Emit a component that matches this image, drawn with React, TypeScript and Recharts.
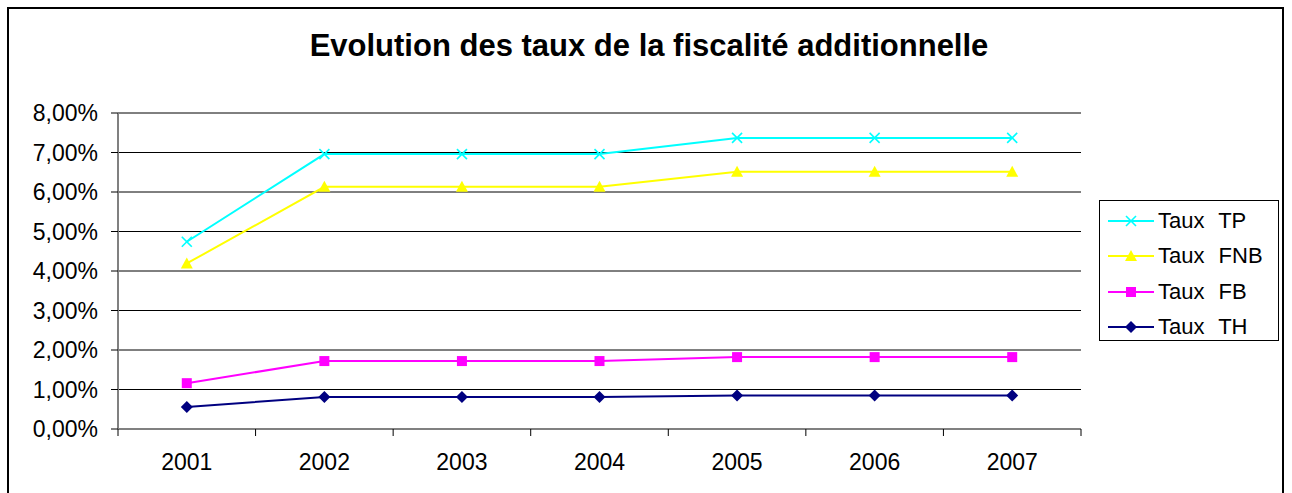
import React from 'react'
import { LineChart, Line, XAxis, YAxis, CartesianGrid, Legend } from 'recharts'

const years = ['2001', '2002', '2003', '2004', '2005', '2006', '2007']
const tauxTP = [4.74, 6.96, 6.96, 6.96, 7.37, 7.37, 7.37]
const tauxFNB = [4.19, 6.13, 6.13, 6.13, 6.51, 6.51, 6.51]
const tauxFB = [1.16, 1.72, 1.72, 1.72, 1.82, 1.82, 1.82]
const tauxTH = [0.56, 0.81, 0.81, 0.81, 0.85, 0.85, 0.85]
const yTicks = [0, 1, 2, 3, 4, 5, 6, 7, 8]

const data = years.map((year, i) => ({
  year,
  tp: tauxTP[i],
  fnb: tauxFNB[i],
  fb: tauxFB[i],
  th: tauxTH[i]
}))

const series = [
  { dataKey: 'tp', name: 'Taux TP', color: '#00FFFF', shape: 'cross' },
  { dataKey: 'fnb', name: 'Taux FNB', color: '#FFFF00', shape: 'triangle' },
  { dataKey: 'fb', name: 'Taux FB', color: '#FF00FF', shape: 'square' },
  { dataKey: 'th', name: 'Taux TH', color: '#000080', shape: 'diamond' }
]

const FONT = '"Liberation Sans", Arial, sans-serif'
const W = 1292
const H = 493
const PLOT_LEFT = 118
const PLOT_RIGHT = 1081
const PLOT_TOP = 113
const PLOT_BOTTOM = 429
const BAND = (PLOT_RIGHT - PLOT_LEFT) / years.length

function Marker({ cx, cy, shape, color }: { cx: number; cy: number; shape: string; color: string }) {
  if (cx == null || cy == null) return null
  if (shape === 'cross') {
    return (
      <g stroke={color} strokeWidth={1.6}>
        <line x1={cx - 5} y1={cy - 5} x2={cx + 5} y2={cy + 5} />
        <line x1={cx - 5} y1={cy + 5} x2={cx + 5} y2={cy - 5} />
      </g>
    )
  }
  if (shape === 'triangle') {
    return <polygon points={`${cx},${cy - 6} ${cx - 6},${cy + 5} ${cx + 6},${cy + 5}`} fill={color} />
  }
  if (shape === 'square') {
    return <rect x={cx - 5} y={cy - 5} width={10} height={10} fill={color} />
  }
  return <polygon points={`${cx},${cy - 6} ${cx + 6},${cy} ${cx},${cy + 6} ${cx - 6},${cy}`} fill={color} />
}

function XTick(props: any) {
  const { x, y, payload, index } = props
  return (
    <g>
      <line x1={x - BAND / 2} y1={y} x2={x - BAND / 2} y2={y + 7} stroke="#000" />
      {index === years.length - 1 && (
        <line x1={x + BAND / 2} y1={y} x2={x + BAND / 2} y2={y + 7} stroke="#000" />
      )}
      <text x={x} y={y + 41} textAnchor="middle" fontSize={23} fontFamily={FONT} fill="#000">
        {payload.value}
      </text>
    </g>
  )
}

function renderLegend() {
  return (
    <div
      style={{
        border: '1px solid #000',
        background: '#fff',
        width: 180,
        height: 141,
        boxSizing: 'border-box',
        paddingTop: 2,
        fontFamily: FONT
      }}
    >
      {series.map(s => (
        <div key={s.dataKey} style={{ display: 'flex', alignItems: 'center', height: 35.5 }}>
          <svg width={46} height={20} style={{ marginLeft: 8, marginRight: 4 }}>
            <line x1={0} y1={10} x2={46} y2={10} stroke={s.color} strokeWidth={2} />
            <Marker cx={23} cy={10} shape={s.shape} color={s.color} />
          </svg>
          <span style={{ fontSize: 22, color: '#000', wordSpacing: 8, lineHeight: 1 }}>{s.name}</span>
        </div>
      ))}
    </div>
  )
}

export default function App() {
  return (
    <div style={{ position: 'absolute', left: 0, top: 0, width: W, height: H, overflow: 'hidden', background: '#fff' }}>
      <div
        style={{
          position: 'absolute',
          left: 7,
          top: 7,
          width: 1277,
          height: 520,
          border: '2px solid #000',
          boxSizing: 'border-box'
        }}
      />
      <div
        style={{
          position: 'absolute',
          left: 0,
          width: 1298,
          top: 30,
          textAlign: 'center',
          fontFamily: FONT,
          fontWeight: 'bold',
          fontSize: 31,
          lineHeight: 1,
          color: '#000'
        }}
      >
        Evolution des taux de la fiscalité additionnelle
      </div>
      <div style={{ position: 'absolute', left: 0, top: 0 }}>
        <LineChart
          width={W}
          height={H}
          data={data}
          margin={{ top: PLOT_TOP, right: W - PLOT_RIGHT, left: PLOT_LEFT - 110, bottom: H - PLOT_BOTTOM - 40 }}
        >
          <CartesianGrid vertical={false} stroke="#000" strokeWidth={1} />
          <XAxis
            dataKey="year"
            height={40}
            tickSize={0}
            tickMargin={0}
            tickLine={false}
            axisLine={{ stroke: '#808080', strokeWidth: 2 }}
            tick={<XTick />}
            interval={0}
            padding={{ left: BAND / 2, right: BAND / 2 }}
          />
          <YAxis
            width={110}
            domain={[0, 8]}
            ticks={yTicks}
            interval={0}
            tickSize={7}
            tickMargin={13}
            tickLine={{ stroke: '#000' }}
            axisLine={{ stroke: '#808080', strokeWidth: 2 }}
            tick={{ fontSize: 23, fontFamily: FONT, fill: '#000' }}
            tickFormatter={(v: number) => `${v.toFixed(2).replace('.', ',')}%`}
          />
          <Legend
            layout="horizontal"
            verticalAlign="middle"
            align="center"
            content={renderLegend}
            wrapperStyle={{ position: 'absolute', left: 1099, top: 200, width: 180, height: 141 }}
          />
          {series.map(s => (
            <Line
              key={s.dataKey}
              type="linear"
              dataKey={s.dataKey}
              name={s.name}
              stroke={s.color}
              strokeWidth={2}
              isAnimationActive={false}
              dot={(p: any) => <Marker key={`${s.dataKey}-${p.index}`} cx={p.cx} cy={p.cy} shape={s.shape} color={s.color} />}
              activeDot={false}
            />
          ))}
        </LineChart>
      </div>
    </div>
  )
}
